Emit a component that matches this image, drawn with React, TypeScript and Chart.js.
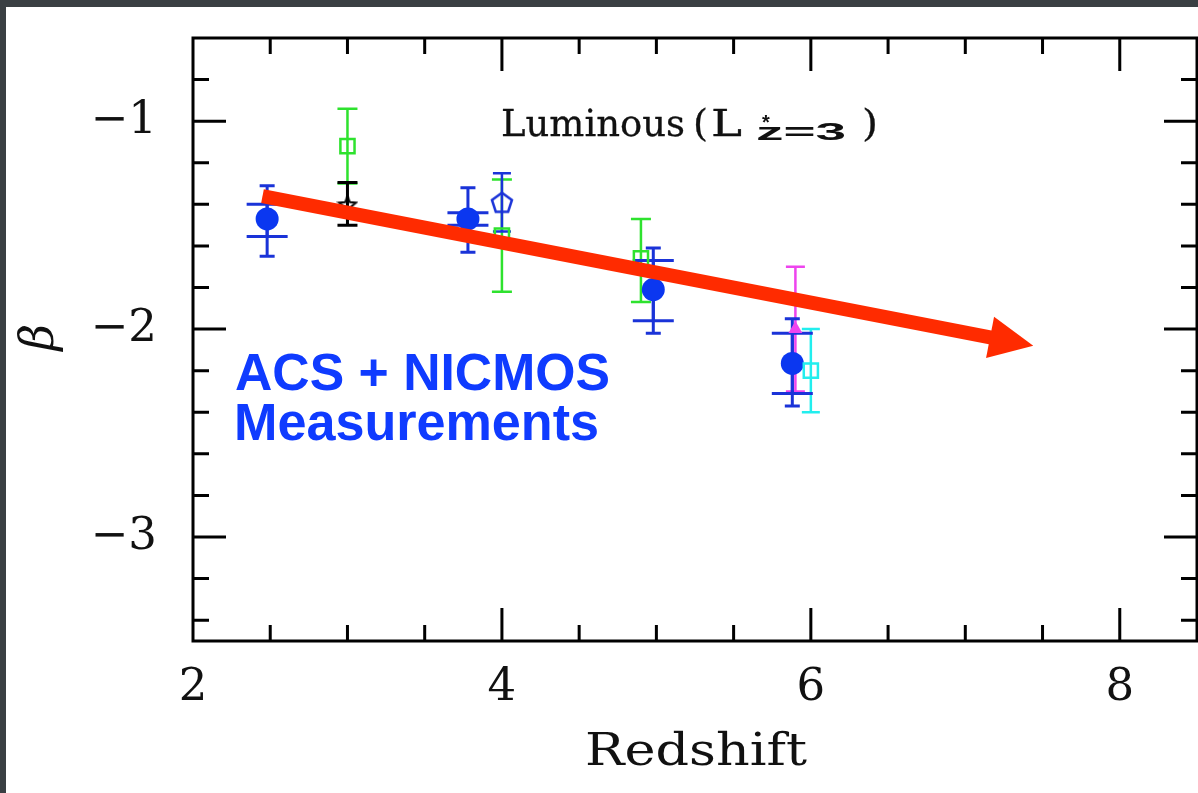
import React, { useEffect, useRef } from 'react';
import { Chart, registerables } from 'chart.js';

Chart.register(...registerables);

// ---- axes ----
const xMajorTicks = [2, 4, 6, 8];
const xTickLabels = ['2', '4', '6', '8'];
const xMinorTicks = [2.5, 3, 3.5, 4.5, 5, 5.5, 6.5, 7, 7.5];
const yMajorTicks = [-3, -2, -1];
const yTickLabels = ['−3', '−2', '−1'];
const yMinorTicks = [-3.4, -3.2, -2.8, -2.6, -2.4, -2.2, -1.8, -1.6, -1.4, -1.2, -0.8];

// ---- ACS + NICMOS (blue filled circles, two error bars) ----
const acsZ = [2.48, 3.78, 4.98, 5.88];
const acsBeta = [-1.47, -1.47, -1.81, -2.165];
const acsInnerHi = [-1.40, -1.44, -1.67, -2.02];
const acsInnerLo = [-1.555, -1.50, -1.96, -2.31];
const acsOuterHi = [-1.31, -1.32, -1.61, -1.95];
const acsOuterLo = [-1.65, -1.63, -2.02, -2.37];

// ---- green open squares ----
const greenZ = [3.0, 4.0, 4.9];
const greenBeta = [-1.12, -1.55, -1.66];
const greenHi = [-0.94, -1.28, -1.47];
const greenLo = [-1.30, -1.82, -1.87];

// ---- blue open pentagon ----
const pentZ = [4.0];
const pentBeta = [-1.39];
const pentHi = [-1.25];
const pentLo = [-1.53];

// ---- black star ----
const starZ = [3.0];
const starBeta = [-1.40];
const starHi = [-1.295];
const starLo = [-1.50];

// ---- magenta triangle ----
const magZ = [5.9];
const magBeta = [-2.0];
const magHi = [-1.70];
const magLo = [-2.30];

// ---- cyan open square ----
const cyanZ = [6.0];
const cyanBeta = [-2.2];
const cyanHi = [-2.0];
const cyanLo = [-2.40];

// ---- red trend arrow ----
const arrowZ = [2.45, 7.44];
const arrowBeta = [-1.36, -2.08];

const BLUE = '#0b37f0';
const BLUE_BAR = '#1a33d8';
const GREEN = '#2ee22e';
const MAGENTA = '#ee44ee';
const CYAN = '#22eeee';
const RED = '#ff2b00';
const SERIF = '"DejaVu Serif", serif';
const SANS = '"Liberation Sans", Arial, sans-serif';

type Bar = { z: number; hi: number; lo: number; color: string; cap: number; lw: number };

function bars(z: number[], hi: number[], lo: number[], color: string, cap: number, lw: number): Bar[] {
  return z.map((v, i) => ({ z: v, hi: hi[i], lo: lo[i], color, cap, lw }));
}

const errorBars: Bar[] = [
  ...bars(greenZ, greenHi, greenLo, GREEN, 20, 2.5),
  ...bars(starZ, starHi, starLo, '#000', 20, 3),
  ...bars(pentZ, pentHi, pentLo, BLUE_BAR, 18, 2.5),
  ...bars(magZ, magHi, magLo, MAGENTA, 19, 2.5),
  ...bars(cyanZ, cyanHi, cyanLo, CYAN, 18, 2.5),
  ...bars(acsZ, acsOuterHi, acsOuterLo, BLUE_BAR, 15, 3),
  ...bars(acsZ, acsInnerHi, acsInnerLo, BLUE_BAR, 41, 3),
];

function pts(z: number[], b: number[]) {
  return z.map((v, i) => ({ x: v, y: b[i] }));
}

// draws text starting at x (left), stretched horizontally to width w
function fitText(ctx: CanvasRenderingContext2D, text: string, x: number, y: number, w: number, font: string, color: string, weight = 0) {
  ctx.save();
  ctx.font = font;
  ctx.fillStyle = color;
  ctx.strokeStyle = color;
  ctx.textAlign = 'left';
  ctx.textBaseline = 'alphabetic';
  const mw = ctx.measureText(text).width;
  const s = w / mw;
  ctx.translate(x, y);
  ctx.scale(s, 1);
  ctx.fillText(text, 0, 0);
  if (weight > 0) {
    ctx.lineWidth = weight;
    ctx.lineJoin = 'round';
    ctx.strokeText(text, 0, 0);
  }
  ctx.restore();
}

function centerText(ctx: CanvasRenderingContext2D, text: string, cx: number, cy: number, font: string, color: string, rot = 0) {
  ctx.save();
  ctx.font = font;
  ctx.fillStyle = color;
  ctx.textAlign = 'left';
  ctx.textBaseline = 'alphabetic';
  const m = ctx.measureText(text);
  const l = -m.actualBoundingBoxLeft;
  const r = m.actualBoundingBoxRight;
  const t = -m.actualBoundingBoxAscent;
  const b = m.actualBoundingBoxDescent;
  ctx.translate(cx, cy);
  ctx.rotate(rot);
  ctx.fillText(text, -(l + r) / 2, -(t + b) / 2);
  ctx.restore();
}

function makePentagon(): HTMLCanvasElement {
  const c = document.createElement('canvas');
  c.width = 28;
  c.height = 28;
  const g = c.getContext('2d')!;
  g.strokeStyle = BLUE_BAR;
  g.lineWidth = 2.5;
  g.beginPath();
  for (let k = 0; k < 5; k++) {
    const a = -Math.PI / 2 + (k * 2 * Math.PI) / 5;
    const px = 14 + 10.5 * Math.cos(a);
    const py = 15 + 10.5 * Math.sin(a);
    if (k === 0) g.moveTo(px, py);
    else g.lineTo(px, py);
  }
  g.closePath();
  g.stroke();
  return c;
}

function makeStar(): HTMLCanvasElement {
  const c = document.createElement('canvas');
  c.width = 22;
  c.height = 22;
  const g = c.getContext('2d')!;
  g.strokeStyle = '#000';
  g.lineWidth = 2;
  g.beginPath();
  for (let k = 0; k < 10; k++) {
    const a = -Math.PI / 2 + (k * Math.PI) / 5;
    const rr = k % 2 === 0 ? 9 : 4;
    const px = 11 + rr * Math.cos(a);
    const py = 12 + rr * Math.sin(a);
    if (k === 0) g.moveTo(px, py);
    else g.lineTo(px, py);
  }
  g.closePath();
  g.stroke();
  return c;
}

const decor = {
  id: 'decor',
  beforeDraw(chart: any) {
    const ctx = chart.ctx as CanvasRenderingContext2D;
    ctx.save();
    ctx.fillStyle = '#3a3f43';
    ctx.fillRect(0, 0, chart.width, chart.height);
    ctx.fillStyle = '#ffffff';
    ctx.fillRect(6, 7, chart.width - 6, chart.height - 7);
    ctx.restore();
  },
  beforeDatasetsDraw(chart: any) {
    const ctx = chart.ctx as CanvasRenderingContext2D;
    const xs = chart.scales.x;
    const ys = chart.scales.y;
    ctx.save();
    ctx.lineCap = 'butt';
    for (const b of errorBars) {
      const px = xs.getPixelForValue(b.z);
      const pyH = ys.getPixelForValue(b.hi);
      const pyL = ys.getPixelForValue(b.lo);
      ctx.strokeStyle = b.color;
      ctx.lineWidth = b.lw;
      ctx.beginPath();
      ctx.moveTo(px, pyH);
      ctx.lineTo(px, pyL);
      ctx.moveTo(px - b.cap / 2, pyH);
      ctx.lineTo(px + b.cap / 2, pyH);
      ctx.moveTo(px - b.cap / 2, pyL);
      ctx.lineTo(px + b.cap / 2, pyL);
      ctx.stroke();
    }
    ctx.restore();
  },
  afterDatasetsDraw(chart: any) {
    const ctx = chart.ctx as CanvasRenderingContext2D;
    const xs = chart.scales.x;
    const ys = chart.scales.y;
    const { left, right, top, bottom } = chart.chartArea;

    // red arrow
    const x0 = xs.getPixelForValue(arrowZ[0]);
    const y0 = ys.getPixelForValue(arrowBeta[0]);
    const x1 = xs.getPixelForValue(arrowZ[1]);
    const y1 = ys.getPixelForValue(arrowBeta[1]);
    const dx = x1 - x0;
    const dy = y1 - y0;
    const len = Math.hypot(dx, dy);
    const ux = dx / len;
    const uy = dy / len;
    const headL = 44;
    const headW = 21;
    const bx = x1 - ux * headL;
    const by = y1 - uy * headL;
    ctx.save();
    ctx.strokeStyle = RED;
    ctx.fillStyle = RED;
    ctx.lineWidth = 14;
    ctx.lineCap = 'butt';
    ctx.beginPath();
    ctx.moveTo(x0, y0);
    ctx.lineTo(bx + ux * 4, by + uy * 4);
    ctx.stroke();
    ctx.beginPath();
    ctx.moveTo(x1, y1);
    ctx.lineTo(bx - uy * headW, by + ux * headW);
    ctx.lineTo(bx + uy * headW, by - ux * headW);
    ctx.closePath();
    ctx.fill();
    ctx.restore();

    // frame and inward ticks
    ctx.save();
    ctx.strokeStyle = '#000';
    ctx.lineWidth = 3;
    ctx.strokeRect(left, top, right - left, bottom - top);
    ctx.beginPath();
    const major = 33;
    const minor = 16;
    for (const v of xMajorTicks) {
      const p = xs.getPixelForValue(v);
      if (p <= left + 1) continue;
      ctx.moveTo(p, bottom);
      ctx.lineTo(p, bottom - major);
      ctx.moveTo(p, top);
      ctx.lineTo(p, top + major);
    }
    for (const v of xMinorTicks) {
      const p = xs.getPixelForValue(v);
      ctx.moveTo(p, bottom);
      ctx.lineTo(p, bottom - minor);
      ctx.moveTo(p, top);
      ctx.lineTo(p, top + minor);
    }
    for (const v of yMajorTicks) {
      const p = ys.getPixelForValue(v);
      ctx.moveTo(left, p);
      ctx.lineTo(left + major, p);
      ctx.moveTo(right, p);
      ctx.lineTo(right - major, p);
    }
    for (const v of yMinorTicks) {
      const p = ys.getPixelForValue(v);
      ctx.moveTo(left, p);
      ctx.lineTo(left + minor, p);
      ctx.moveTo(right, p);
      ctx.lineTo(right - minor, p);
    }
    ctx.stroke();
    ctx.restore();

    // texts
    fitText(ctx, 'Luminous', 501, 136, 184, `37px ${SERIF}`, '#111', 0.3);
    fitText(ctx, '(', 693, 136, 15, `37px ${SERIF}`, '#111', 0.3);
    fitText(ctx, 'L', 711, 136, 31, `37px ${SERIF}`, '#111', 0.3);
    centerText(ctx, '*', 766, 119, `bold 20px ${SANS}`, '#111');
    fitText(ctx, 'z=3', 756, 140, 90, `bold 24px ${SANS}`, '#111');
    fitText(ctx, ')', 862, 136, 16, `37px ${SERIF}`, '#111', 0.3);

    fitText(ctx, 'ACS + NICMOS', 235, 390, 375, `bold 51px ${SANS}`, '#0f3bff');
    fitText(ctx, 'Measurements', 234, 440, 365, `bold 51px ${SANS}`, '#0f3bff');

    fitText(ctx, 'Redshift', 585, 765, 222, `44px ${SERIF}`, '#111');
    centerText(ctx, 'β', 40, 339, `italic 46px ${SERIF}`, '#111', -Math.PI / 2);
  },
};

function zeroPad(s: any) {
  s.paddingTop = 0;
  s.paddingBottom = 0;
  s.paddingLeft = 0;
  s.paddingRight = 0;
}

export default function App() {
  const ref = useRef<HTMLCanvasElement>(null);
  useEffect(() => {
    document.body.style.margin = '0';
    const pent = makePentagon();
    const star = makeStar();
    const chart = new Chart(ref.current as HTMLCanvasElement, {
      type: 'scatter',
      data: {
        datasets: [
          { label: 'green', data: pts(greenZ, greenBeta), pointStyle: 'rect', pointRadius: 10, borderColor: GREEN, borderWidth: 2.5, backgroundColor: 'rgba(0,0,0,0)' },
          { label: 'star', data: pts(starZ, starBeta), pointStyle: star as any, pointRadius: 10 },
          { label: 'pentagon', data: pts(pentZ, pentBeta), pointStyle: pent as any, pointRadius: 10 },
          { label: 'magenta', data: pts(magZ, magBeta), pointStyle: 'triangle', pointRadius: 8, backgroundColor: MAGENTA, borderColor: MAGENTA, borderWidth: 0 },
          { label: 'cyan', data: pts(cyanZ, cyanBeta), pointStyle: 'rect', pointRadius: 10, borderColor: CYAN, borderWidth: 2.5, backgroundColor: 'rgba(0,0,0,0)' },
          { label: 'ACS + NICMOS', data: pts(acsZ, acsBeta), pointStyle: 'circle', pointRadius: 11.5, backgroundColor: BLUE, borderColor: BLUE, borderWidth: 0 },
        ],
      },
      options: {
        animation: false,
        responsive: true,
        maintainAspectRatio: false,
        events: [],
        layout: { autoPadding: false, padding: { top: 38, right: 1, left: 0, bottom: 0 } },
        plugins: { legend: { display: false }, tooltip: { enabled: false } },
        scales: {
          x: {
            type: 'linear',
            min: 2,
            max: 8.5,
            grid: { display: false, drawTicks: false },
            border: { display: false },
            afterBuildTicks: (s: any) => {
              s.ticks = xMajorTicks.map((v) => ({ value: v }));
            },
            afterFit: (s: any) => {
              s.height = 152;
              zeroPad(s);
            },
            ticks: {
              autoSkip: false,
              maxRotation: 0,
              padding: 20,
              color: '#111',
              font: { family: SERIF, size: 45 },
              callback: (v: any) => {
                const i = xMajorTicks.indexOf(Number(v));
                return i >= 0 ? xTickLabels[i] : '';
              },
            },
          },
          y: {
            type: 'linear',
            min: -3.5,
            max: -0.6,
            grid: { display: false, drawTicks: false },
            border: { display: false },
            afterBuildTicks: (s: any) => {
              s.ticks = yMajorTicks.map((v) => ({ value: v }));
            },
            afterFit: (s: any) => {
              s.width = 193;
              zeroPad(s);
            },
            ticks: {
              autoSkip: false,
              padding: 36,
              color: '#111',
              font: { family: SERIF, size: 45 },
              callback: (v: any) => {
                const i = yMajorTicks.indexOf(Number(v));
                return i >= 0 ? yTickLabels[i] : '';
              },
            },
          },
        },
      },
      plugins: [decor],
    });
    return () => chart.destroy();
  }, []);
  return (
    <div style={{ width: 1198, height: 793, position: 'relative' }}>
      <canvas ref={ref} />
    </div>
  );
}
